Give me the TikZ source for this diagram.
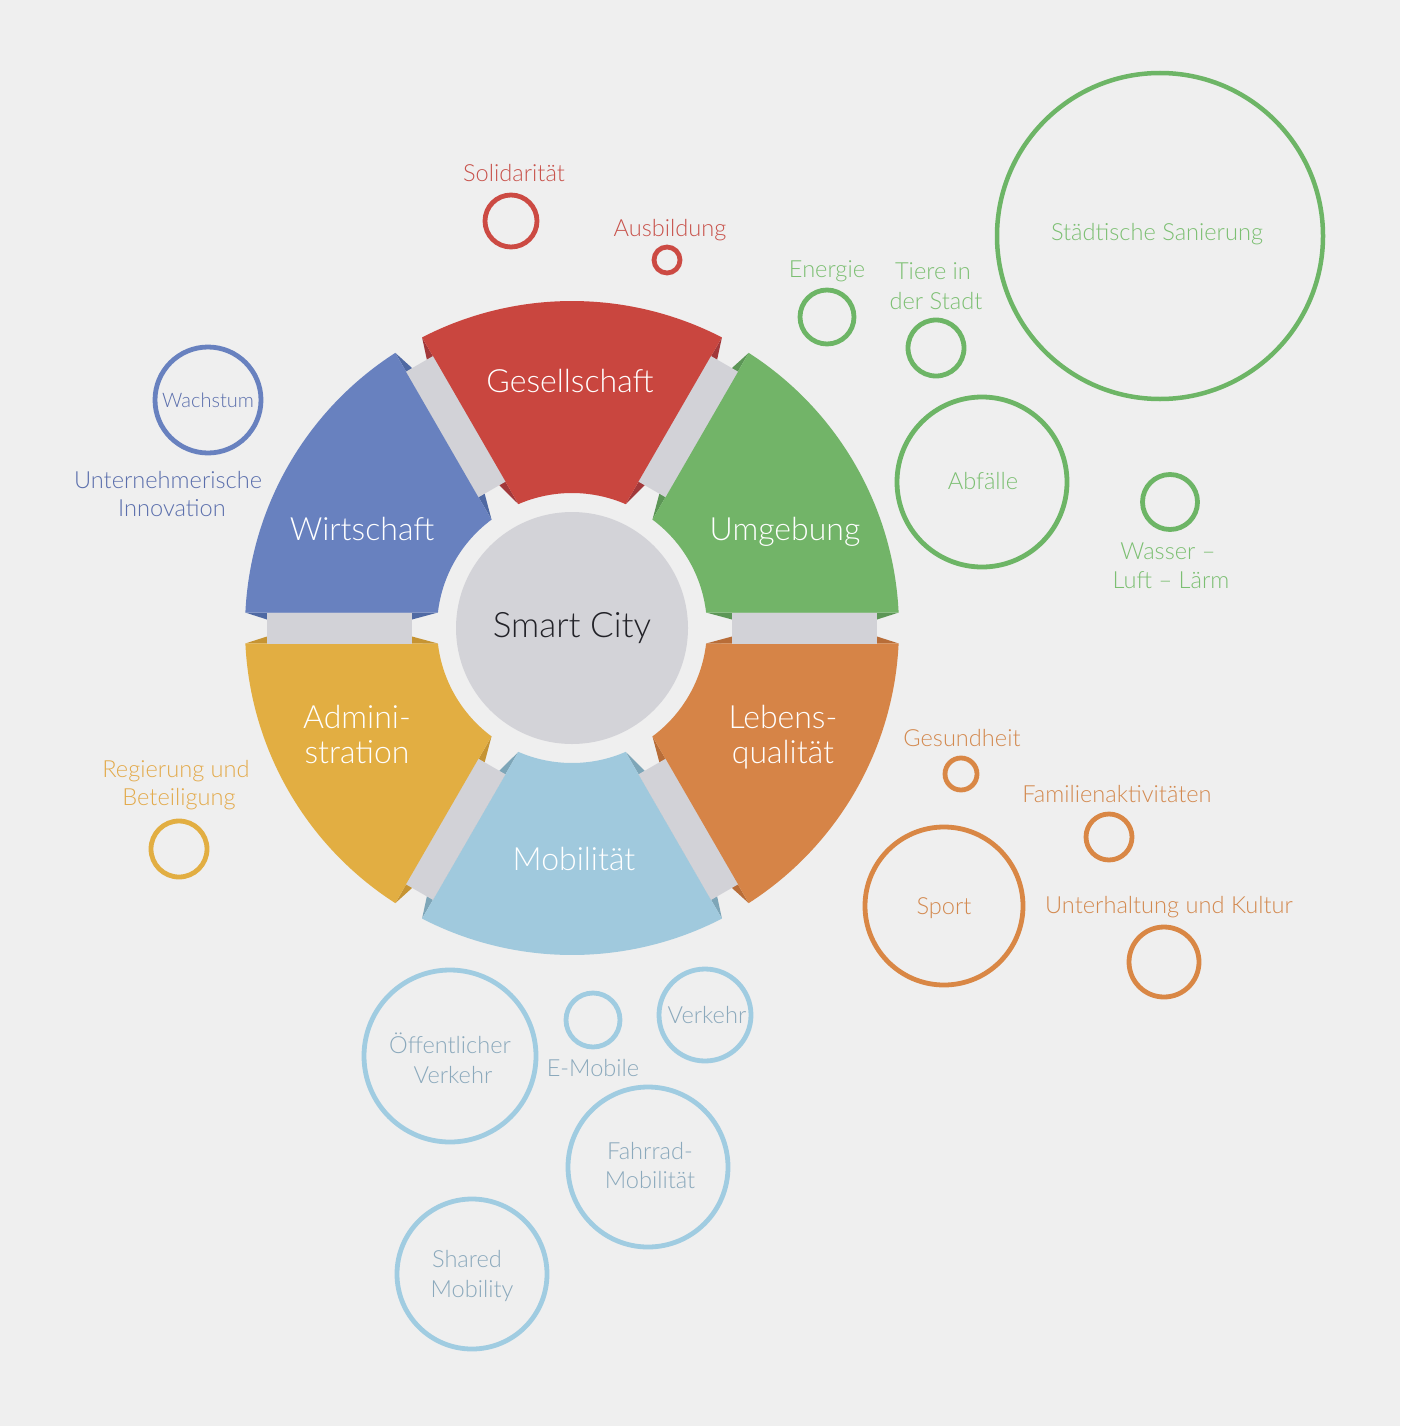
\documentclass[tikz,border=0pt]{standalone}
\usepackage{fontspec}
\IfFontExistsTF{Lato Light}{\setmainfont{Lato Light}}{\setmainfont{Lato}}
\definecolor{bg}{HTML}{EFEFEF}
\definecolor{cRed}{HTML}{C9463F}\definecolor{dRed}{HTML}{A2383A}
\definecolor{cGreen}{HTML}{72B468}\definecolor{dGreen}{HTML}{5C9656}
\definecolor{cOrange}{HTML}{D68447}\definecolor{dOrange}{HTML}{B86D38}
\definecolor{cLblue}{HTML}{A0C9DD}\definecolor{dLblue}{HTML}{7EA6B8}
\definecolor{cYellow}{HTML}{E2AE42}\definecolor{dYellow}{HTML}{C69433}
\definecolor{cBlue}{HTML}{6881BF}\definecolor{dBlue}{HTML}{4F69A3}
\definecolor{cBar}{HTML}{D2D2D7}
\definecolor{cCenter}{HTML}{D3D3D8}
\definecolor{tDark}{HTML}{222228}
\definecolor{tRed}{HTML}{C8524B}\definecolor{oRed}{HTML}{CC4A43}
\definecolor{tGreen}{HTML}{7CBF72}\definecolor{oGreen}{HTML}{6DB566}
\definecolor{tBlue}{HTML}{5A6EAC}\definecolor{oBlue}{HTML}{6881BF}
\definecolor{tYellow}{HTML}{E3AA4B}\definecolor{oYellow}{HTML}{E2AE42}
\definecolor{tOrange}{HTML}{D3894F}\definecolor{oOrange}{HTML}{D98745}
\definecolor{tLblue}{HTML}{8BA9BC}\definecolor{oLblue}{HTML}{A0CCE1}
\begin{document}
\begin{tikzpicture}[x=1pt,y=-1pt,
  lbl/.style={inner sep=0pt, anchor=base, font=\fontsize{23.6}{27}\selectfont},
  seglbl/.style={inner sep=0pt, anchor=base, text=white, font=\fontsize{32}{36}\selectfont},
  bub/.style={circle, draw, inner sep=0pt, line width=4.8pt}]
\useasboundingbox (0,0) rectangle (1400,1426);
\fill[bg] (0,0) rectangle (1400,1426);
% ring of segments
\begin{scope}[shift={(572,628)}, y=1pt]
  \foreach \p/\fc/\dc in {90/cRed/dRed, 30/cGreen/dGreen, -30/cOrange/dOrange,
                          -90/cLblue/dLblue, 210/cYellow/dYellow, 150/cBlue/dBlue} {
    \fill[\dc] (\p+30-2.708:327) -- (\p+30-1.596:305.12) -- (\p+30-3.041:160.23) -- (\p+30-6.593:135) -- cycle;
    \fill[\dc] (\p-30+2.708:327) -- (\p-30+1.596:305.12) -- (\p-30+3.041:160.23) -- (\p-30+6.593:135) -- cycle;
    \fill[\fc] (\p-30+2.708:327) arc[start angle=\p-30+2.708, end angle=\p+30-2.708, radius=327pt]
      -- (\p+30-6.593:135) arc[start angle=\p+30-6.593, end angle=\p-30+6.593, radius=135pt] -- cycle;
  }
  \foreach \g in {0,60,120,180,240,300}
    \fill[cBar, rotate=\g] (160,-15.5) rectangle (305,15.5);
  \fill[cCenter] (0,0) circle[radius=116pt];
\end{scope}
% segment labels
\node[inner sep=0pt, anchor=base, text=tDark, font=\fontsize{35}{40}\selectfont] (smart) at (572,637) {Smart City};
\node[seglbl] (ges) at (570,392) {Gesellschaft};
\node[seglbl] (umg) at (785,540) {Umgebung};
\node[seglbl] (wir) at (362,540) {Wirtschaft};
\node[seglbl] (leb1) at (783,728) {Lebens-};
\node[seglbl] (leb2) at (783,763) {qualität};
\node[seglbl] (adm1) at (357,728) {Admini-};
\node[seglbl] (adm2) at (357,763) {stration};
\node[seglbl] (mob) at (574,870) {Mobilität};
% Gesellschaft bubbles
\node[bub, draw=oRed, minimum size=52pt] (bsol) at (511,221) {};
\node[lbl, text=tRed] (tsol) at (514,181) {Solidarität};
\node[bub, draw=oRed, minimum size=26pt] (baus) at (667,260) {};
\node[lbl, text=tRed] (taus) at (670,236) {Ausbildung};
% Umgebung bubbles
\node[bub, draw=oGreen, minimum size=54pt] (bene) at (827,317) {};
\node[lbl, text=tGreen] (tene) at (827,277) {Energie};
\node[bub, draw=oGreen, minimum size=56pt] (btie) at (936,348) {};
\node[lbl, text=tGreen] (ttie1) at (933,279) {Tiere in};
\node[lbl, text=tGreen] (ttie2) at (936,309) {der Stadt};
\node[bub, draw=oGreen, minimum size=326pt, line width=4.5pt] (bsan) at (1160,236) {};
\node[lbl, text=tGreen] (tsan) at (1157,240) {Städtische Sanierung};
\node[bub, draw=oGreen, minimum size=170pt] (babf) at (982,482) {};
\node[lbl, text=tGreen] (tabf) at (983,489) {Abfälle};
\node[bub, draw=oGreen, minimum size=55pt] (bwas) at (1170,502) {};
\node[lbl, text=tGreen] (twas1) at (1168,559) {Wasser –};
\node[lbl, text=tGreen] (twas2) at (1171,588) {Luft – Lärm};
% Wirtschaft bubbles
\node[bub, draw=oBlue, minimum size=106pt] (bwac) at (208,400) {};
\node[lbl, text=tBlue, font=\fontsize{20}{23}\selectfont] (twac) at (208,407) {Wachstum};
\node[lbl, text=tBlue] (tunt1) at (168,488) {Unternehmerische};
\node[lbl, text=tBlue] (tunt2) at (172,516) {Innovation};
% Administration bubbles
\node[lbl, text=tYellow] (treg1) at (176,777) {Regierung und};
\node[lbl, text=tYellow] (treg2) at (179,805) {Beteiligung};
\node[bub, draw=oYellow, minimum size=56pt] (breg) at (179,849) {};
% Lebensqualitaet bubbles
\node[lbl, text=tOrange] (tges) at (962,746) {Gesundheit};
\node[bub, draw=oOrange, minimum size=32pt] (bges) at (961,774) {};
\node[lbl, text=tOrange] (tfam) at (1117,802) {Familienaktivitäten};
\node[bub, draw=oOrange, minimum size=46pt] (bfam) at (1109,837) {};
\node[bub, draw=oOrange, minimum size=158pt] (bspo) at (944,906) {};
\node[lbl, text=tOrange] (tspo) at (944,914) {Sport};
\node[lbl, text=tOrange] (tunt) at (1169,913) {Unterhaltung und Kultur};
\node[bub, draw=oOrange, minimum size=70pt] (bkul) at (1164,962) {};
% Mobilitaet bubbles
\node[bub, draw=oLblue, minimum size=172pt] (boef) at (450,1056) {};
\node[lbl, text=tLblue] (toef1) at (450,1053) {Öffentlicher};
\node[lbl, text=tLblue] (toef2) at (453,1083) {Verkehr};
\node[bub, draw=oLblue, minimum size=54pt] (bemo) at (593,1020) {};
\node[lbl, text=tLblue] (temo) at (593,1076) {E-Mobile};
\node[bub, draw=oLblue, minimum size=92pt] (bver) at (705,1015) {};
\node[lbl, text=tLblue] (tver) at (707,1023) {Verkehr};
\node[bub, draw=oLblue, minimum size=160pt] (bfah) at (648,1167) {};
\node[lbl, text=tLblue] (tfah1) at (650,1159) {Fahrrad-};
\node[lbl, text=tLblue] (tfah2) at (650,1188) {Mobilität};
\node[bub, draw=oLblue, minimum size=150pt] (bsha) at (472,1274) {};
\node[lbl, text=tLblue] (tsha1) at (467,1267) {Shared};
\node[lbl, text=tLblue] (tsha2) at (472,1297) {Mobility};
\end{tikzpicture}
\end{document}
